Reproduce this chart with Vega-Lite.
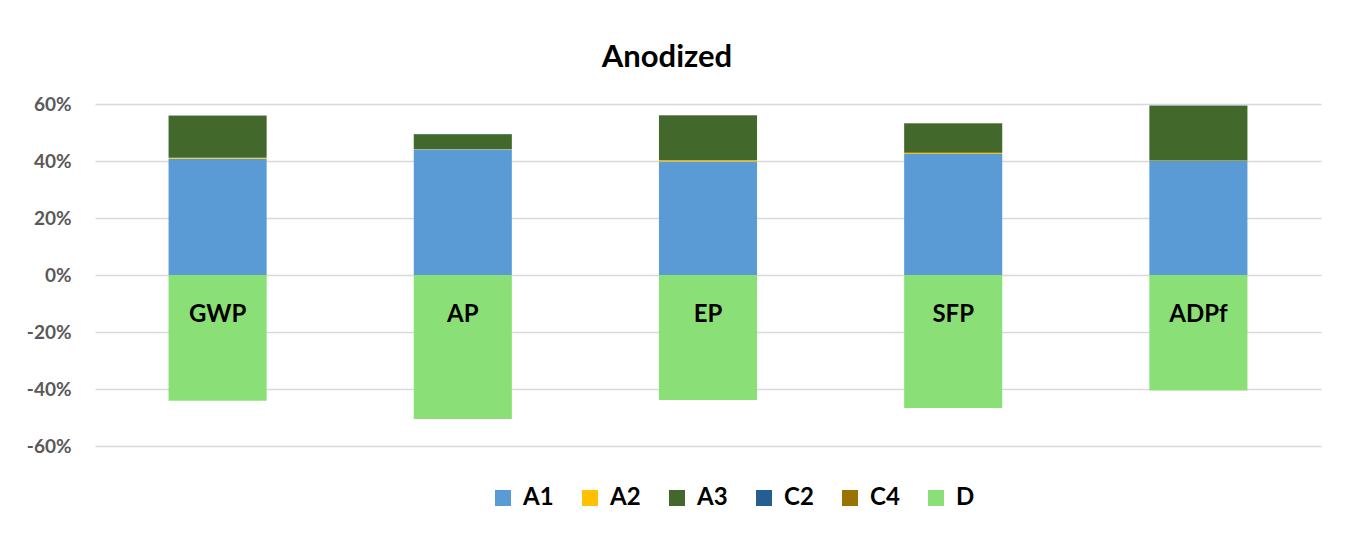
{
  "$schema": "https://vega.github.io/schema/vega-lite/v6.json",
  "width": 1226,
  "height": 342,
  "autosize": {"type": "none"},
  "padding": {"left": 95, "top": 104, "right": 29, "bottom": 94},
  "background": "white",
  "title": {"text": "Anodized", "font": "Lato", "fontSize": 31, "fontWeight": "bold", "color": "#000000", "anchor": "middle", "offset": 21, "dx": -41},
  "data": {"values": [
    {"cat": "GWP", "series": "A1", "o": 1, "v": 0.408},
    {"cat": "GWP", "series": "A2", "o": 2, "v": 0.003},
    {"cat": "GWP", "series": "A3", "o": 3, "v": 0.148},
    {"cat": "GWP", "series": "C2", "o": 4, "v": 0.0005},
    {"cat": "GWP", "series": "C4", "o": 5, "v": 0.0005},
    {"cat": "GWP", "series": "D", "o": 6, "v": -0.441},
    {"cat": "AP", "series": "A1", "o": 1, "v": 0.441},
    {"cat": "AP", "series": "A2", "o": 2, "v": 0.001},
    {"cat": "AP", "series": "A3", "o": 3, "v": 0.052},
    {"cat": "AP", "series": "C2", "o": 4, "v": 0.0005},
    {"cat": "AP", "series": "C4", "o": 5, "v": 0.0005},
    {"cat": "AP", "series": "D", "o": 6, "v": -0.505},
    {"cat": "EP", "series": "A1", "o": 1, "v": 0.398},
    {"cat": "EP", "series": "A2", "o": 2, "v": 0.005},
    {"cat": "EP", "series": "A3", "o": 3, "v": 0.157},
    {"cat": "EP", "series": "C2", "o": 4, "v": 0.0005},
    {"cat": "EP", "series": "C4", "o": 5, "v": 0.0005},
    {"cat": "EP", "series": "D", "o": 6, "v": -0.439},
    {"cat": "SFP", "series": "A1", "o": 1, "v": 0.425},
    {"cat": "SFP", "series": "A2", "o": 2, "v": 0.004},
    {"cat": "SFP", "series": "A3", "o": 3, "v": 0.103},
    {"cat": "SFP", "series": "C2", "o": 4, "v": 0.0005},
    {"cat": "SFP", "series": "C4", "o": 5, "v": 0.0005},
    {"cat": "SFP", "series": "D", "o": 6, "v": -0.467},
    {"cat": "ADPf", "series": "A1", "o": 1, "v": 0.400},
    {"cat": "ADPf", "series": "A2", "o": 2, "v": 0.002},
    {"cat": "ADPf", "series": "A3", "o": 3, "v": 0.192},
    {"cat": "ADPf", "series": "C2", "o": 4, "v": 0.0005},
    {"cat": "ADPf", "series": "C4", "o": 5, "v": 0.0005},
    {"cat": "ADPf", "series": "D", "o": 6, "v": -0.405}
  ]},
  "mark": {"type": "bar"},
  "encoding": {
    "x": {
      "field": "cat", "type": "nominal", "sort": ["GWP", "AP", "EP", "SFP", "ADPf"],
      "scale": {"paddingInner": 0.6, "paddingOuter": 0.3},
      "axis": {"title": null, "grid": false, "domain": false, "ticks": false, "labelAngle": 0, "labelFont": "Lato", "labelFontSize": 24, "labelFontWeight": "bold", "labelColor": "#000000", "offset": -144, "labelPadding": 0, "zindex": 2}
    },
    "y": {
      "field": "v", "type": "quantitative", "stack": "zero",
      "scale": {"domain": [-0.6, 0.6], "nice": false},
      "axis": {"title": null, "format": ".0%", "labelExpr": "replace(datum.label, '\u2212', '-')", "values": [-0.6, -0.4, -0.2, 0, 0.2, 0.4, 0.6], "domain": false, "ticks": false, "labelFont": "Lato", "labelFontSize": 19, "labelFontWeight": "bold", "labelColor": "#595959", "labelPadding": 24, "grid": true, "gridColor": "#d9d9d9", "gridWidth": 1.5}
    },
    "color": {
      "field": "series", "type": "nominal",
      "scale": {"domain": ["A1", "A2", "A3", "C2", "C4", "D"], "range": ["#5b9bd5", "#ffc000", "#43682b", "#255e91", "#997300", "#8ae077"]},
      "legend": {"title": null, "orient": "none", "legendX": 396, "legendY": 382, "direction": "horizontal", "symbolType": "square", "symbolSize": 256, "symbolStrokeWidth": 0, "labelFont": "Lato", "labelFontSize": 24, "labelFontWeight": "bold", "labelColor": "#000000", "columnPadding": 24, "symbolOffset": 0, "labelOffset": 8}
    },
    "order": {"field": "o", "type": "quantitative"}
  },
  "config": {"view": {"stroke": null}}
}
